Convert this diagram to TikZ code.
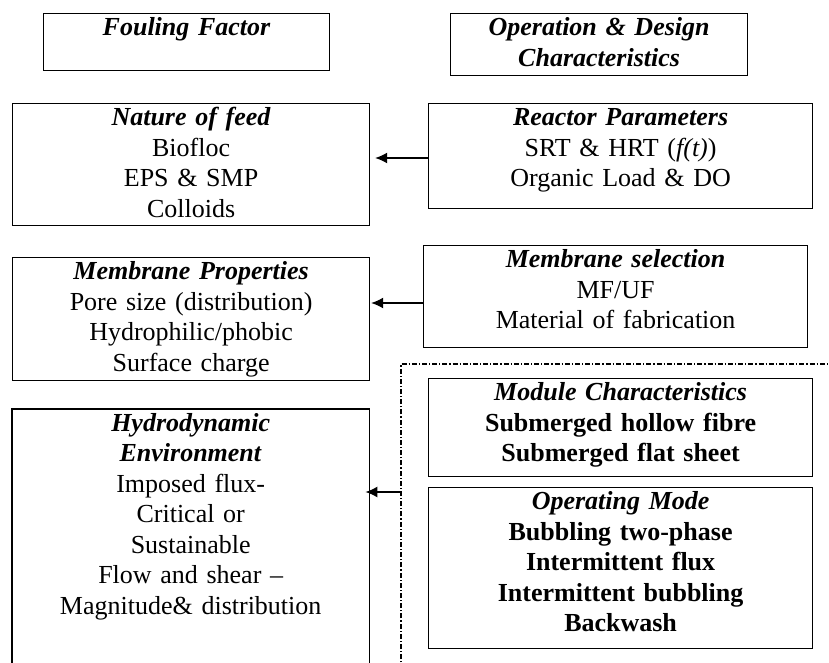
\documentclass[tikz,border=0pt]{standalone}
\usepackage{fontspec}
\setmainfont{Liberation Serif}
\usepackage{tikz}
\usetikzlibrary{arrows.meta, positioning, calc}

\newcommand{\hd}[1]{\textbf{\textit{#1}}}

\tikzset{
  factorbox/.style={draw, line width=1.2pt, anchor=north west, align=center,
                    inner xsep=2pt, inner ysep=4pt, text height=18pt},
  plainbox/.style={anchor=north west, align=center, inner xsep=2pt, inner ysep=4pt,
                   text height=18pt},
  boxline/.style={line width=1.2pt},
  grpline/.style={line width=1.1pt, dash pattern=on 5pt off 2pt on 1.2pt off 2pt},
  feedarrow/.style={line width=1.3pt, -{Latex[length=12pt, width=11pt]}}
}

\begin{document}
\begin{tikzpicture}[x=1pt, y=-1pt, font=\fontsize{26}{30.5}\selectfont]
\useasboundingbox (0,0) rectangle (829,663);

\node[factorbox, text width=282pt, text depth=31pt] (fouling) at (43,13)
  {\hd{Fouling Factor}};
\node[factorbox, text width=293pt, text depth=36pt] (opdesign) at (450,13)
  {\hd{Operation \& Design}\\ \hd{Characteristics}};

\node[factorbox, text width=353pt, text depth=96pt] (feed) at (12,103)
  {\hd{Nature of feed}\\ Biofloc\\ EPS \& SMP\\ Colloids};
\node[factorbox, text width=380pt, text depth=79pt] (reactor) at (428,103)
  {\hd{Reactor Parameters}\\ SRT \& HRT (\textit{f(t)})\\ Organic Load \& DO};

\node[factorbox, text width=353pt, text depth=97pt] (memprop) at (12,257)
  {\hd{Membrane Properties}\\ Pore size (distribution)\\ Hydrophilic/phobic\\ Surface charge};
\node[factorbox, text width=380pt, text depth=76pt] (memsel) at (423,245)
  {\hd{Membrane selection}\\ MF/UF\\ Material of fabrication};

\node[plainbox, text width=353pt] (hydro) at (12,409)
  {\hd{Hydrodynamic}\\ \hd{Environment}\\ Imposed flux-\\ Critical or\\ Sustainable\\
   Flow and shear --\\ Magnitude\& distribution};
\draw[boxline] ($(hydro.south west)+(0,60)$) |- (hydro.north east)
  -- ($(hydro.south east)+(0,60)$);

\draw[grpline] (401,700) |- (860,364);
\coordinate (grpedge) at (401,492);

\node[factorbox, text width=380pt, text depth=72pt] (module) at (428,378)
  {\hd{Module Characteristics}\\ \textbf{Submerged hollow fibre}\\ \textbf{Submerged flat sheet}};
\node[factorbox, text width=380pt, text depth=135pt] (opmode) at (428,487)
  {\hd{Operating Mode}\\ \textbf{Bubbling two-phase}\\ \textbf{Intermittent flux}\\
   \textbf{Intermittent bubbling}\\ \textbf{Backwash}};

\draw[feedarrow, shorten >=5pt] (reactor.west |- 0,158) -- (feed.east |- 0,158);
\draw[feedarrow, shorten >=1pt] (memsel.west |- 0,303) -- (memprop.east |- 0,303);
\draw[feedarrow, shorten >=-4pt] (grpedge) -- (hydro.east |- grpedge);
\end{tikzpicture}
\end{document}
